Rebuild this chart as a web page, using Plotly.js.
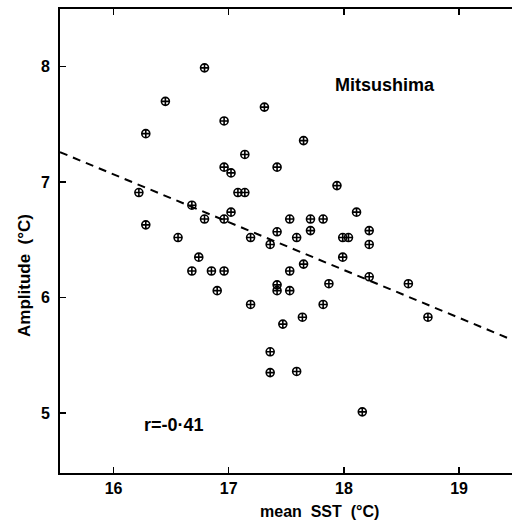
<!DOCTYPE html>
<html>
<head>
<meta charset="utf-8">
<script src="https://cdn.plot.ly/plotly-3.0.1.min.js"></script>
<style>html,body{margin:0;padding:0;background:#fff;}#chart{width:512px;height:526px;}</style>
</head>
<body>
<div id="chart"></div>
<script>
// mean SST (°C)
const sst = [16.79,16.45,17.31,16.28,16.96,17.14,16.96,17.02,17.42,16.22,
  17.08,17.14,16.68,17.02,16.79,16.96,16.28,17.42,16.56,17.19,
  17.36,16.74,17.65,17.94,18.11,17.53,17.71,17.82,17.71,17.59,
  17.99,18.04,18.22,18.22,17.99,16.68,16.85,16.96,17.53,16.90,
  17.42,17.42,17.53,17.19,17.47,17.36,17.36,17.65,17.87,18.22,
  18.56,17.82,17.64,18.73,17.59,18.16];
// Amplitude (°C)
const amp = [7.99,7.70,7.65,7.42,7.53,7.24,7.13,7.08,7.13,6.91,
  6.91,6.91,6.80,6.74,6.68,6.68,6.63,6.57,6.52,6.52,
  6.46,6.35,7.36,6.97,6.74,6.68,6.68,6.68,6.58,6.52,
  6.52,6.52,6.58,6.46,6.35,6.23,6.23,6.23,6.23,6.06,
  6.11,6.06,6.06,5.94,5.77,5.53,5.35,6.29,6.12,6.18,
  6.12,5.94,5.83,5.83,5.36,5.01];
// regression line end points
const fitX = [15.535, 19.47];
const fitY = [7.26, 5.63];
const xTicks = [16, 17, 18, 19];
const yTicks = [5, 6, 7, 8];
const stationLabel = 'Mitsushima';
const rLabel = 'r=-0·41';

const font = 'Liberation Sans, Arial, sans-serif';
const tf = {size: 17, family: font, color: '#000', weight: 'bold'};
const tickf = {size: 16, family: font, color: '#000', weight: 'bold'};
const titf = {size: 16, family: font, color: '#000', weight: 'bold'};

const data = [
  {x: fitX, y: fitY, mode: 'lines', type: 'scatter', hoverinfo: 'skip',
   line: {color: '#000', width: 2, dash: '8px,6px'}},
  {x: sst, y: amp, mode: 'markers', type: 'scatter',
   marker: {symbol: 'circle-cross-open', size: 8, color: '#000', line: {color: '#000', width: 1.6}}}
];

const layout = {
  width: 512, height: 526,
  margin: {l: 60, r: 0, t: 9, b: 53},
  paper_bgcolor: '#fff', plot_bgcolor: '#fff',
  showlegend: false,
  font: {family: font, color: '#000'},
  xaxis: {
    range: [15.535, 19.46], tickvals: xTicks, ticktext: xTicks.map(String),
    ticks: 'inside', ticklen: 6, tickwidth: 1.5, tickcolor: '#000',
    showline: true, linecolor: '#000', linewidth: 2, mirror: 'ticks',
    showgrid: false, zeroline: false,
    tickfont: tickf, ticklabelstandoff: 0
  },
  yaxis: {
    range: [4.48, 8.5], tickvals: yTicks, ticktext: yTicks.map(String),
    ticks: 'inside', ticklen: 6, tickwidth: 1.5, tickcolor: '#000',
    showline: true, linecolor: '#000', linewidth: 2, mirror: false,
    showgrid: false, zeroline: false,
    tickfont: tickf, ticklabelstandoff: 5
  },
  annotations: [
    {text: stationLabel, xref: 'paper', yref: 'paper', x: 0.719, y: 0.836,
     xanchor: 'center', yanchor: 'middle', showarrow: false,
     font: {size: 18, family: font, color: '#000', weight: 'bold'}},
    {text: rLabel, xref: 'paper', yref: 'paper', x: 0.252, y: 0.103,
     xanchor: 'center', yanchor: 'middle', showarrow: false,
     font: {size: 18, family: font, color: '#000', weight: 'bold'}},
    {text: 'mean  SST  (°C)', xref: 'paper', yref: 'paper', x: 0.575, y: -0.082,
     xanchor: 'center', yanchor: 'middle', showarrow: false, font: titf},
    {text: 'Amplitude  (°C)', xref: 'paper', yref: 'paper', x: -0.0774, y: 0.4246,
     xanchor: 'center', yanchor: 'middle', textangle: -90, showarrow: false, font: tf}
  ]
};

Plotly.newPlot('chart', data, layout, {displayModeBar: false, staticPlot: true});
</script>
</body>
</html>
